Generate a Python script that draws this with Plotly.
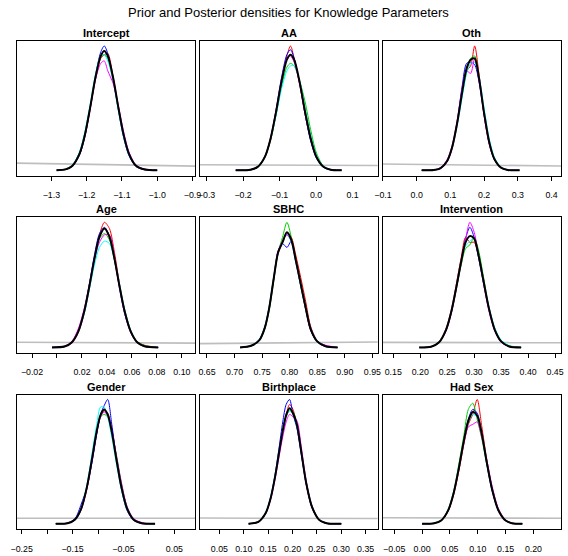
import plotly.graph_objects as go

W, H = 568, 556

main_title = "Prior and Posterior densities for Knowledge Parameters"
panel_titles = ["Intercept", "AA", "Oth", "Age", "SBHC", "Intervention",
                "Gender", "Birthplace", "Had Sex"]
chain_colors = ["#FF0000", "#00CD00", "#0000FF", "#00FFFF", "#FF00FF"]

# ---------------- Intercept ----------------
x_intercept = [-1.285, -1.26, -1.24, -1.22, -1.205, -1.19, -1.175, -1.16, -1.15, -1.14, -1.125, -1.11, -1.095, -1.08, -1.06, -1.035, -1.0]
red_intercept = [0.5, 0.7, 3.5, 13, 27.5, 49, 73, 90, 93, 94, 75.5, 51.5, 29, 13.5, 3.5, 1.2, 0.2]
green_intercept = [0.2, 1.2, 4.5, 14.5, 30, 51.5, 75, 91, 93, 90, 73, 49.5, 28, 13, 4, 0.7, 0.2]
blue_intercept = [0.2, 0.8, 3.5, 12.5, 27, 50, 76, 95, 100, 94, 74, 49, 26.5, 12, 3.2, 0.6, 0.2]
cyan_intercept = [0.3, 1.0, 4.6, 15, 31, 53, 77, 92, 93, 88, 72, 48, 27, 12.5, 3.6, 0.8, 0.2]
magenta_intercept = [0.4, 0.9, 3.6, 13, 28, 50, 73, 86, 88, 80, 70, 52, 31, 15, 4.4, 1.0, 0.3]
all_intercept = [0.3, 0.9, 3.9, 13.5, 28.5, 50.5, 74.7, 92, 96, 92, 74.7, 50.5, 28.5, 13.4, 3.8, 0.8, 0.2]
prior_x_intercept = [-1.40, -0.89]
prior_intercept = [5.9, 3.5]

# ---------------- AA ----------------
x_aa = [-0.22, -0.18, -0.16, -0.14, -0.125, -0.11, -0.095, -0.08, -0.07, -0.06, -0.045, -0.03, -0.015, 0.0, 0.02, 0.04, 0.07]
red_aa = [0.3, 0.5, 2.5, 10.5, 24, 45, 70, 92, 100, 90, 69, 45, 25, 11, 3, 0.8, 0.2]
green_aa = [0.2, 0.8, 3.2, 11, 24, 44, 67, 83, 86, 84, 72, 55, 33, 15, 3.6, 0.7, 0.2]
blue_aa = [0.2, 0.5, 2.6, 11, 25.5, 48, 74, 93, 97, 90, 70, 45, 24, 10.5, 2.6, 0.5, 0.2]
cyan_aa = [0.2, 0.7, 3.2, 12, 25, 44, 65, 80, 84, 84, 72, 50, 29, 13, 3.5, 0.9, 0.2]
magenta_aa = [0.3, 0.6, 2.8, 11.5, 26, 47.5, 72, 90, 92, 87, 70, 46, 25.5, 11.5, 3, 0.6, 0.2]
all_aa = [0.2, 0.6, 2.9, 11.2, 25.2, 46.5, 71, 89, 93, 89, 71, 47, 26, 11.5, 3, 0.6, 0.2]
prior_x_aa = [-0.33, 0.18]
prior_aa = [4.6, 4.0]

# ---------------- Oth ----------------
x_oth = [0.015, 0.05, 0.07, 0.09, 0.105, 0.12, 0.135, 0.148, 0.16, 0.172, 0.185, 0.20, 0.215, 0.23, 0.25, 0.27, 0.305]
red_oth = [0.2, 0.3, 1.5, 7, 17.5, 37, 65, 80, 84, 100, 77, 44, 21, 9, 2.2, 0.5, 0.2]
green_oth = [0.2, 0.5, 2.0, 8, 19, 38, 61, 79, 90, 92, 73, 46, 24, 10, 2.6, 0.6, 0.2]
blue_oth = [0.2, 0.4, 1.6, 7, 18.5, 39, 68, 86, 87, 85, 71, 45, 22, 9, 2.1, 0.4, 0.2]
cyan_oth = [0.2, 0.5, 1.9, 7.5, 18, 36, 59, 78, 86, 87, 75, 50, 26, 11, 2.6, 0.7, 0.2]
magenta_oth = [0.3, 0.5, 2.2, 8.5, 20, 40, 66, 80, 78, 90, 72, 44, 22, 9.5, 2.3, 0.5, 0.2]
all_oth = [0.2, 0.4, 1.8, 7.5, 18.5, 38, 63, 82, 89, 90, 74, 46, 23, 9.5, 2.3, 0.5, 0.2]
prior_x_oth = [-0.11, 0.44]
prior_oth = [5.2, 3.6]

# ---------------- Age ----------------
x_age = [-0.004, 0.006, 0.012, 0.017, 0.022, 0.026, 0.030, 0.034, 0.038, 0.042, 0.046, 0.050, 0.054, 0.059, 0.064, 0.070, 0.081]
red_age = [0.1, 0.7, 4, 12, 28.5, 48, 70, 90, 100, 95, 76, 51, 30, 13, 5, 2, 0.2]
green_age = [0.2, 1, 4.6, 13.5, 31, 51, 72, 87, 91, 86, 70, 50, 31, 14, 5, 1.8, 0.2]
blue_age = [0.4, 1.2, 4.5, 13, 30, 51, 74, 91, 96, 89, 70, 48, 28, 12.5, 4.2, 1, 0.2]
cyan_age = [0.2, 0.9, 4.2, 12.5, 28, 47, 66, 80, 85, 83, 70, 51, 31, 13.5, 4.6, 1.2, 0.2]
magenta_age = [0.4, 1.1, 5.2, 15, 32, 51, 71, 84, 90, 90, 72, 48, 28, 12, 4.2, 1.1, 0.2]
all_age = [0.2, 0.9, 4.4, 12.8, 29.7, 49.4, 71, 88.3, 95, 88.3, 71, 49.4, 29.7, 13, 4.6, 1.2, 0.2]
prior_x_age = [-0.035, 0.115]
prior_age = [4.4, 3.6]

# ---------------- SBHC ----------------
x_sbhc = [0.71, 0.73, 0.745, 0.755, 0.763, 0.771, 0.779, 0.787, 0.795, 0.803, 0.811, 0.82, 0.829, 0.838, 0.85, 0.865, 0.887]
red_sbhc = [0.2, 1.4, 5.8, 15.5, 31, 54, 75, 84, 91, 88, 74, 56, 37, 17, 5.5, 1.4, 0.2]
green_sbhc = [0.2, 1.3, 5.5, 15, 30, 53, 76, 88, 100, 88, 69, 49, 30, 14, 4.5, 1, 0.2]
blue_sbhc = [0.3, 1.7, 6.5, 17, 33, 56, 77, 83, 80, 85, 70, 50, 31, 14, 4.6, 1, 0.2]
cyan_sbhc = [0.4, 1.8, 6.6, 17, 33, 56, 76, 85, 90, 84, 68, 50, 32, 15.5, 5.5, 1.6, 0.3]
magenta_sbhc = [0.2, 1.4, 6, 16, 32, 55, 77, 85, 90, 85, 69, 50, 31, 14, 5, 2, 0.2]
all_sbhc = [0.2, 1.5, 6, 16, 32, 55, 76, 84, 92, 86, 70, 51, 32, 15, 5, 1.2, 0.2]
prior_x_sbhc = [0.63, 0.965]
prior_sbhc = [3.2, 4.5]

# ---------------- Intervention ----------------
x_intervention = [0.198, 0.22, 0.235, 0.248, 0.258, 0.267, 0.276, 0.284, 0.292, 0.30, 0.308, 0.317, 0.327, 0.338, 0.35, 0.365, 0.387]
red_intervention = [0.2, 0.9, 4.8, 15.5, 31, 51, 72, 88, 84, 84, 73, 54, 32, 14.5, 4.8, 1, 0.2]
green_intervention = [0.3, 0.8, 4.2, 14, 28.5, 47, 66, 79, 82, 88, 78, 57, 33, 15.5, 5.6, 1.6, 0.4]
blue_intervention = [0.2, 0.7, 4.2, 14, 29, 48, 69, 87, 96, 88, 72, 52, 31, 14, 4.6, 0.8, 0.2]
cyan_intervention = [0.2, 1.0, 4.8, 15, 30, 49, 69, 81, 85, 87, 74, 54, 33, 16, 6, 1.5, 0.2]
magenta_intervention = [0.2, 0.7, 4, 13.5, 28, 47, 68, 86, 100, 92, 74, 52, 30, 13.5, 4.5, 0.9, 0.2]
all_intervention = [0.2, 0.8, 4.4, 14.5, 29.5, 48.5, 69, 84, 89, 87, 74, 54, 32, 14.5, 5, 1, 0.2]
prior_x_intervention = [0.125, 0.465]
prior_intervention = [4.2, 4.0]

# ---------------- Gender ----------------
x_gender = [-0.183, -0.16, -0.145, -0.133, -0.122, -0.112, -0.103, -0.095, -0.088, -0.081, -0.073, -0.064, -0.054, -0.043, -0.03, -0.012, 0.012]
red_gender = [0.2, 0.5, 3.4, 12, 28, 50, 72, 87, 91, 89, 76, 54, 31, 13, 3.6, 0.6, 0.2]
green_gender = [0.2, 0.7, 4, 13, 30, 53, 74, 86, 88, 86, 75, 56, 33, 14, 4, 0.8, 0.2]
blue_gender = [0.3, 0.8, 4.5, 16, 29, 49, 71, 88, 95, 100, 80, 53, 28, 11, 3, 0.4, 0.2]
cyan_gender = [0.2, 0.6, 3.6, 12.5, 31, 56, 79, 94, 94, 86, 70, 49, 27.5, 11.5, 3.2, 0.5, 0.2]
magenta_gender = [0.4, 0.7, 3.2, 11.5, 28, 51, 73, 86, 90, 87, 75, 55, 33, 14, 4.3, 1, 0.3]
all_gender = [0.2, 0.6, 3.7, 12.4, 29.4, 52, 73.7, 87.7, 92, 88, 74, 52, 29.4, 12.4, 3.5, 0.5, 0.2]
prior_x_gender = [-0.265, 0.095]
prior_gender = [4.6, 4.6]

# ---------------- Birthplace ----------------
x_birthplace = [0.11, 0.13, 0.145, 0.155, 0.164, 0.172, 0.18, 0.187, 0.194, 0.201, 0.209, 0.218, 0.228, 0.24, 0.255, 0.272, 0.30]
red_birthplace = [0.2, 1.5, 8.4, 20, 37, 56, 75, 88, 96, 92, 79, 57, 32, 13, 3, 0.4, 0.2]
green_birthplace = [0.2, 1.9, 9, 21, 38, 57, 74, 86, 91, 90, 80, 58, 34, 14.5, 3.6, 0.6, 0.2]
blue_birthplace = [0.2, 1.6, 8.8, 21, 39, 60, 82, 96, 100, 88, 77, 56, 32, 13, 3, 0.4, 0.2]
cyan_birthplace = [0.3, 1.8, 9.2, 21.5, 38.5, 57, 75, 87, 91, 88, 79, 58, 33.5, 14, 3.4, 0.6, 0.2]
magenta_birthplace = [0.2, 1.4, 8.2, 19.5, 35.5, 53, 70, 82, 88, 86, 83, 62, 35, 14.5, 3.5, 0.6, 0.2]
all_birthplace = [0.2, 1.7, 8.8, 20.5, 37.5, 56.4, 75, 87.5, 93, 89, 80, 58, 33, 13.7, 3.2, 0.5, 0.2]
prior_x_birthplace = [0.0, 0.38]
prior_birthplace = [4.8, 4.4]

# ---------------- Had Sex ----------------
x_hadsex = [0.0, 0.02, 0.035, 0.047, 0.057, 0.066, 0.075, 0.083, 0.091, 0.099, 0.107, 0.116, 0.126, 0.137, 0.15, 0.163, 0.18]
red_hadsex = [0.2, 0.4, 2.8, 10.5, 24, 42.5, 64, 80, 88, 100, 79, 52, 28, 11.5, 3, 0.6, 0.2]
green_hadsex = [0.2, 0.6, 3.5, 12, 27, 48, 71, 92, 97, 84, 69, 48, 26.5, 10.5, 2.6, 0.4, 0.2]
blue_hadsex = [0.2, 0.5, 3, 11, 25.5, 45, 67, 84, 92, 89, 73, 49, 26.5, 10.8, 2.7, 0.5, 0.2]
cyan_hadsex = [0.3, 0.6, 3.3, 11.5, 26, 45.5, 66, 81, 88, 86, 73, 51, 28, 11.5, 3, 0.6, 0.2]
magenta_hadsex = [0.2, 0.5, 3, 11, 25, 44, 65, 78, 80, 82, 70, 52, 30, 12.5, 3.2, 0.7, 0.3]
all_hadsex = [0.2, 0.5, 3.1, 11.1, 25.4, 44.8, 66.8, 82.8, 90, 87, 73, 50, 27.3, 11.1, 2.8, 0.5, 0.2]
prior_x_hadsex = [-0.075, 0.255]
prior_hadsex = [5.0, 4.6]

# ---------------- tick values / labels ----------------
M = "\u2212"
ticks_intercept = [-1.3, -1.2, -1.1, -1.0, -0.9]
labels_intercept = [M + "1.3", M + "1.2", M + "1.1", M + "1.0", M + "0.9"]
ticks_aa = [-0.3, -0.2, -0.1, 0.0, 0.1]
labels_aa = [M + "0.3", M + "0.2", M + "0.1", "0.0", "0.1"]
ticks_oth = [-0.1, 0.0, 0.1, 0.2, 0.3, 0.4]
labels_oth = [M + "0.1", "0.0", "0.1", "0.2", "0.3", "0.4"]
ticks_age = [-0.02, 0.0, 0.02, 0.04, 0.06, 0.08, 0.10]
labels_age = [M + "0.02", "", "0.02", "0.04", "0.06", "0.08", "0.10"]
ticks_sbhc = [0.65, 0.70, 0.75, 0.80, 0.85, 0.90, 0.95]
labels_sbhc = ["0.65", "0.70", "0.75", "0.80", "0.85", "0.90", "0.95"]
ticks_intervention = [0.15, 0.20, 0.25, 0.30, 0.35, 0.40, 0.45]
labels_intervention = ["0.15", "0.20", "0.25", "0.30", "0.35", "0.40", "0.45"]
ticks_gender = [-0.25, -0.20, -0.15, -0.10, -0.05, 0.0, 0.05]
labels_gender = [M + "0.25", "", M + "0.15", "", M + "0.05", "", "0.05"]
ticks_birthplace = [0.05, 0.10, 0.15, 0.20, 0.25, 0.30, 0.35]
labels_birthplace = ["0.05", "0.10", "0.15", "0.20", "0.25", "0.30", "0.35"]
ticks_hadsex = [-0.05, 0.0, 0.05, 0.10, 0.15, 0.20]
labels_hadsex = [M + "0.05", "0.00", "0.05", "0.10", "0.15", "0.20"]

# axis limits (data units at the left / right edge of each panel box)
xlim_intercept = [-1.398, -0.892]
xlim_aa = [-0.3189, 0.1687]
xlim_oth = [-0.1012, 0.428]
xlim_age = [-0.0322, 0.1107]
xlim_sbhc = [0.6367, 0.9596]
xlim_intervention = [0.1301, 0.461]
xlim_gender = [-0.2596, 0.091]
xlim_birthplace = [0.0096, 0.3746]
xlim_hadsex = [-0.071, 0.2495]

panels = [
    (x_intercept, [red_intercept, green_intercept, blue_intercept, cyan_intercept, magenta_intercept], all_intercept, prior_x_intercept, prior_intercept, ticks_intercept, labels_intercept, xlim_intercept),
    (x_aa, [red_aa, green_aa, blue_aa, cyan_aa, magenta_aa], all_aa, prior_x_aa, prior_aa, ticks_aa, labels_aa, xlim_aa),
    (x_oth, [red_oth, green_oth, blue_oth, cyan_oth, magenta_oth], all_oth, prior_x_oth, prior_oth, ticks_oth, labels_oth, xlim_oth),
    (x_age, [red_age, green_age, blue_age, cyan_age, magenta_age], all_age, prior_x_age, prior_age, ticks_age, labels_age, xlim_age),
    (x_sbhc, [red_sbhc, green_sbhc, blue_sbhc, cyan_sbhc, magenta_sbhc], all_sbhc, prior_x_sbhc, prior_sbhc, ticks_sbhc, labels_sbhc, xlim_sbhc),
    (x_intervention, [red_intervention, green_intervention, blue_intervention, cyan_intervention, magenta_intervention], all_intervention, prior_x_intervention, prior_intervention, ticks_intervention, labels_intervention, xlim_intervention),
    (x_gender, [red_gender, green_gender, blue_gender, cyan_gender, magenta_gender], all_gender, prior_x_gender, prior_gender, ticks_gender, labels_gender, xlim_gender),
    (x_birthplace, [red_birthplace, green_birthplace, blue_birthplace, cyan_birthplace, magenta_birthplace], all_birthplace, prior_x_birthplace, prior_birthplace, ticks_birthplace, labels_birthplace, xlim_birthplace),
    (x_hadsex, [red_hadsex, green_hadsex, blue_hadsex, cyan_hadsex, magenta_hadsex], all_hadsex, prior_x_hadsex, prior_hadsex, ticks_hadsex, labels_hadsex, xlim_hadsex),
]

# panel box positions in pixels
col_px = [(9, 192), (196.5, 379), (384, 567)]
row_px = [(41, 175.5), (217.3, 352.7), (394.5, 529)]

FONT = "Liberation Sans, Arial, Helvetica, sans-serif"

fig = go.Figure()
layout = dict(
    width=W, height=H, margin=dict(l=0, r=0, t=0, b=0),
    paper_bgcolor="white", plot_bgcolor="white", showlegend=False,
    annotations=[],
)

for i, (xs, chains, allc, px, py, tv, tt, xlim) in enumerate(panels):
    r, c = divmod(i, 3)
    sfx = "" if i == 0 else str(i + 1)
    xa, ya = "x" + sfx, "y" + sfx
    fig.add_trace(go.Scatter(x=px, y=py, mode="lines", xaxis=xa, yaxis=ya,
                             line=dict(color="#BEBEBE", width=1.6), hoverinfo="skip"))
    for col, ys in zip(chain_colors, chains):
        fig.add_trace(go.Scatter(x=xs, y=ys, mode="lines", xaxis=xa, yaxis=ya,
                                 line=dict(color=col, width=1, shape="spline", smoothing=0.8),
                                 hoverinfo="skip"))
    fig.add_trace(go.Scatter(x=xs, y=allc, mode="lines", xaxis=xa, yaxis=ya,
                             line=dict(color="black", width=2, shape="spline", smoothing=0.8),
                             hoverinfo="skip"))
    ymax = max(max(s) for s in chains + [allc, py])
    x0, x1 = col_px[c]
    y0, y1 = row_px[r]
    layout["xaxis" + sfx] = dict(
        domain=[x0 / W, x1 / W], range=xlim, anchor=ya,
        tickmode="array", tickvals=tv, ticktext=tt,
        ticks="outside", ticklen=4, tickwidth=1, tickcolor="black",
        showline=True, linecolor="black", linewidth=1, mirror=True,
        showgrid=False, zeroline=False, fixedrange=True,
        tickfont=dict(family=FONT, size=8.8, color="black"),
        ticklabelstandoff=7,
    )
    layout["yaxis" + sfx] = dict(
        domain=[1 - y1 / H, 1 - y0 / H], range=[-0.04 * ymax, 1.04 * ymax], anchor=xa,
        showline=True, linecolor="black", linewidth=1, mirror=True,
        showticklabels=False, ticks="", showgrid=False, zeroline=False, fixedrange=True,
    )
    layout["annotations"].append(dict(
        text="<b>" + panel_titles[i] + "</b>", xref="paper", yref="paper",
        x=(x0 + x1) / 2 / W, y=1 - (y0 - 8) / H, xanchor="center", yanchor="middle",
        showarrow=False, font=dict(family=FONT, size=11, color="black"),
    ))

layout["annotations"].append(dict(
    text=main_title, xref="paper", yref="paper", x=288 / W, y=1 - 13 / H,
    xanchor="center", yanchor="middle", showarrow=False,
    font=dict(family=FONT, size=13, color="black"),
))

fig.update_layout(**layout)
fig.write_html("out.html")
